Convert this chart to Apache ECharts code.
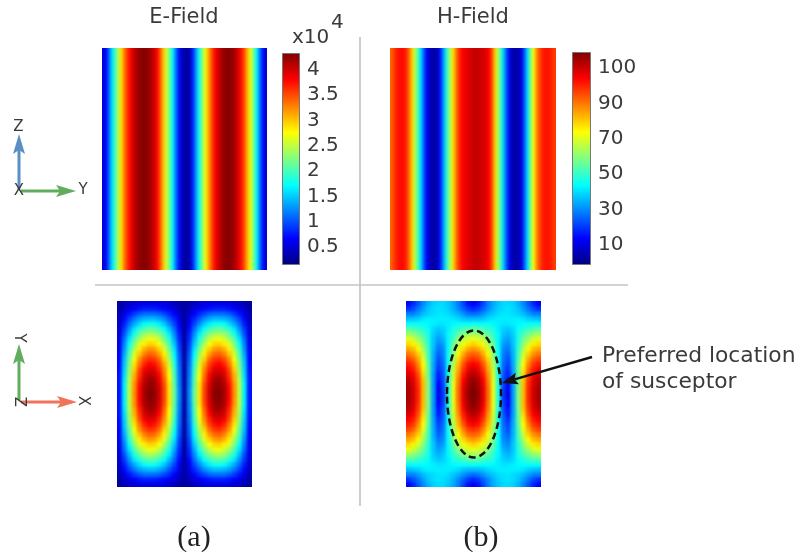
<!DOCTYPE html>
<html>
<head>
<meta charset="utf-8">
<style>html,body{margin:0;padding:0;background:#fff}#c{width:798px;height:556px;filter:blur(0.5px)}</style>
<script src="https://cdn.jsdelivr.net/npm/echarts@6/dist/echarts.min.js"></script>
</head>
<body>
<div id="c"></div>
<script>
// Top row: field magnitude across the width of the slab (the field does not vary along Z)
const eYProfile = [0.5,0.7,1.15,1.6,2.0,2.45,2.9,3.3,3.6,3.8,4.0,4.15,4.25,4.3,4.3,4.25,4.15,4.0,3.8,3.45,3.05,2.6,2.2,1.75,1.25,0.8,0.5,0.3,0.25,0.45,0.85,1.35,1.8,2.25,2.7,3.1,3.45,3.75,3.95,4.1,4.25,4.3,4.3,4.25,4.15,3.95,3.75,3.5,3.1,2.7,2.25,1.75,1.25,0.8,0.5];
const hYProfile = [92,97,101,103,103,100,92,80,66,52,39,25,13,6,3,4,9,22,37,52,66,79,91,99,104,106,108,109,111,111,110,109,107,104,95,80,65,50,36,22,10,5,3,5,10,25,40,58,73,87,95,100,102,102,100,97];

// Bottom row: top-left quarter of each field, percent of colour range (the field is mirrored about both centre lines)
const eQuarter = [
[3,5,7,8,9,10,10,10,10,9,8,6,4,3],
[4,7,10,12,14,15,15,15,14,13,11,9,6,3],
[5,10,14,18,21,23,23,23,22,19,16,12,8,3],
[6,13,19,24,28,30,31,31,29,26,21,16,10,3],
[7,15,23,29,34,38,39,39,36,32,26,19,11,3],
[8,18,27,35,41,45,47,46,43,38,31,23,13,3],
[9,20,31,40,47,52,54,53,50,44,36,26,15,3],
[10,23,35,45,53,58,61,60,56,49,40,29,16,3],
[10,25,38,50,59,64,67,66,62,54,44,32,18,3],
[11,27,42,54,64,70,73,72,67,59,48,35,19,3],
[12,29,45,58,68,75,78,77,72,64,52,37,21,3],
[12,31,47,61,73,80,83,82,77,67,55,39,22,3],
[13,32,50,65,76,84,88,86,81,71,58,41,23,3],
[13,33,52,67,80,88,91,90,84,74,60,43,24,3],
[14,34,53,70,82,91,94,93,87,76,62,44,24,3],
[14,35,55,71,84,93,97,96,89,78,63,45,25,3],
[14,36,56,73,86,95,98,97,91,80,65,46,25,3],
[14,36,56,73,87,96,99,98,92,81,65,47,26,3],
[14,36,56,74,87,96,100,99,92,81,65,47,26,3]];
const hQuarter = [
[12,16,21,26,30,33,34,34,32,29,25,19,14,11],
[17,20,24,28,32,34,35,34,33,30,26,22,18,16],
[25,25,28,31,33,34,35,35,34,32,30,27,24,23],
[31,32,33,35,36,36,36,36,36,35,34,32,31,31],
[38,38,38,38,37,36,35,35,36,37,38,38,38,39],
[46,45,43,41,38,34,32,33,36,40,42,44,46,46],
[53,51,48,44,40,33,30,32,37,42,46,50,53,53],
[60,58,53,48,40,32,28,30,37,44,51,56,59,60],
[66,64,58,51,41,32,26,28,37,47,55,61,65,67],
[71,69,63,54,43,31,24,26,38,49,59,66,71,73],
[76,73,67,57,44,30,22,25,38,51,62,71,77,78],
[81,78,71,60,45,30,20,24,39,53,66,75,81,83],
[85,82,74,62,47,29,19,23,39,55,69,79,86,88],
[88,85,77,64,48,29,17,22,39,57,71,82,89,92],
[91,88,80,66,48,28,15,21,39,58,73,85,92,95],
[94,90,82,68,49,28,14,20,40,59,75,87,95,97],
[95,91,83,69,50,28,12,19,40,60,76,89,96,99],
[96,92,84,69,50,28,11,18,40,60,77,90,97,100],
[96,92,84,69,50,28,10,18,40,60,77,90,98,100]];

const eTicks = [0.5,1,1.5,2,2.5,3,3.5,4];
const hTicks = [10,30,50,70,90,110];
const hTickLabels = ["10","30","50","70","90","100"];
const eRange = [0.144,4.336];
const hRange = [-1.3,119];

const jet = ['#00007f','#0000ff','#0080ff','#00ffff','#80ff80','#ffff00','#ff8000','#ff0000','#7f0000'];
const text = '#3a3a3a', sans = '"DejaVu Sans"';

const mirror = q => { const rows = q.map(r => r.concat(r.slice(0,-1).reverse())); return rows.concat(rows.slice(0,-1).reverse()); };
const cells = m => m.flatMap((r,j) => r.map((v,i) => [i,j,v]));
const strip = p => p.map((v,i) => [i,0,v]);
const idx = n => Array.from({length:n},(_,i)=>i);

const grids = [
  {left:102,top:48,width:165,height:222},
  {left:390,top:48,width:166,height:222},
  {left:117,top:301,width:135,height:186},
  {left:406,top:301,width:135,height:186},
  {left:282,top:53,width:18,height:212},
  {left:572,top:52,width:19,height:213}
];
const heatData = [strip(eYProfile), strip(hYProfile), cells(mirror(eQuarter)), cells(mirror(hQuarter))];
const xAxis = [], yAxis = [], series = [], visualMap = [];
heatData.forEach((d,k) => {
  const nx = Math.max(...d.map(c=>c[0]))+1, ny = Math.max(...d.map(c=>c[1]))+1;
  xAxis.push({gridIndex:k,type:'category',data:idx(nx),show:false});
  yAxis.push({gridIndex:k,type:'category',data:idx(ny),show:false});
  // a crisp copy below and a softened copy above, so the smoothing never fades towards the white page
  [0,1].forEach(z => series.push({type:'heatmap',zlevel:z,xAxisIndex:k,yAxisIndex:k,data:d,itemStyle:{borderWidth:0},emphasis:{disabled:true},progressive:0}));
  const range = k===0?eRange:k===1?hRange:[0,100];
  visualMap.push({show:false,seriesIndex:[2*k,2*k+1],dimension:2,min:range[0],max:range[1],inRange:{color:jet}});
});
const gradient = {type:'linear',x:0,y:1,x2:0,y2:0,colorStops:jet.map((c,i)=>({offset:i/8,color:c}))};
[[eRange,eTicks,v=>String(v)],[hRange,hTicks,v=>hTickLabels[hTicks.indexOf(v)]]].forEach((b,n) => {
  const k = 4+n;
  xAxis.push({gridIndex:k,type:'category',data:['scale'],show:false});
  yAxis.push({gridIndex:k,type:'value',position:'right',min:b[0][0],max:b[0][1],startValue:b[0][0],splitLine:{show:false},
    axisLine:{show:false},
    axisTick:{show:true,inside:true,length:3,customValues:b[1],lineStyle:{color:'#555'}},
    axisLabel:{customValues:b[1],formatter:b[2],margin:7,color:text,fontFamily:sans,fontSize:20}});
  series.push({type:'bar',xAxisIndex:k,yAxisIndex:k,data:[b[0][1]],barWidth:'100%',silent:true,
    itemStyle:{color:gradient,borderColor:'#777',borderWidth:1}});
});

const T = (x,y,s,o={}) => ({type:'text',z:100,zlevel:2,x,y,rotation:o.rot||0,style:{text:s,fill:o.fill||text,
  fontFamily:o.font||sans,fontSize:o.size||20,align:o.align||'center',verticalAlign:o.va||'middle'}});
const L = (x1,y1,x2,y2,c,w) => ({type:'line',z:100,zlevel:2,shape:{x1,y1,x2,y2},style:{stroke:c,lineWidth:w}});
function arrow(x1,y1,x2,y2,c,w,len,hw,notch){
  const d=Math.hypot(x2-x1,y2-y1),ux=(x2-x1)/d,uy=(y2-y1)/d,nx=-uy,ny=ux;
  const P=(a,b)=>[x2-ux*a+nx*b,y2-uy*a+ny*b];
  return [L(x1,y1,x2-ux*(len-notch),y2-uy*(len-notch),c,w),
    {type:'polygon',z:100,zlevel:2,shape:{points:[P(0,0),P(len,hw),P(len-notch,0),P(len,-hw)]},style:{fill:c}}];
}
// white frame that trims the softened layer back to each panel's edge
const frame = grids.slice(0,4).flatMap(g => {
  const m = 6, R = (x,y,width,height) => ({type:'rect',z:50,zlevel:2,shape:{x,y,width,height},style:{fill:'#fff'}});
  return [R(g.left-m,g.top-m,g.width+2*m,m),R(g.left-m,g.top+g.height,g.width+2*m,m),
          R(g.left-m,g.top,m,g.height),R(g.left+g.width,g.top,m,g.height)];
});
const blue='#5b8fc4',green='#62ac5e',red='#f1745a',dark='#111';
const graphic = [
  ...frame,
  L(360,37,360,506,'#bdbdbd',1.5), L(95,285,628,285,'#c4c4c4',1.5),
  T(184,18,'E-Field',{size:21}), T(473,18,'H-Field',{size:21}),
  T(292,38,'x10',{align:'left',size:20}), T(331,23,'4',{align:'left',size:20}),
  ...arrow(19,189,19,134,blue,3,20,6,4),
  ...arrow(21,191,76,191,green,3,20,6,4),
  T(18.5,127,'Z',{size:15}), T(19,191,'X',{size:15}), T(83,190,'Y',{size:15}),
  ...arrow(19,400,19,344,green,3,20,6,4),
  ...arrow(21,402,77,402,red,3,20,6,4),
  T(19,338,'Y',{size:15,rot:-Math.PI/2}), T(19,402,'Z',{size:15,rot:-Math.PI/2}), T(83,401,'X',{size:15,rot:-Math.PI/2}),
  {type:'ellipse',z:100,zlevel:2,shape:{cx:474,cy:394,rx:27,ry:63.5},style:{fill:'transparent',stroke:dark,lineWidth:2.5,lineDash:[7,4]}},
  ...arrow(592,357,502,383,dark,2.5,16,6,3),
  T(602,356,'Preferred location',{align:'left',size:21.8}),
  T(602,382,'of susceptor',{align:'left',size:21.8}),
  T(194,538,'(a)',{font:'"Liberation Serif"',size:30,fill:'#222'}),
  T(481,538,'(b)',{font:'"Liberation Serif"',size:30,fill:'#222'})
];

const chart = echarts.init(document.getElementById('c'),null,{renderer:'canvas'});
chart.setOption({animation:false,backgroundColor:'#fff',tooltip:{show:false},grid:grids,xAxis,yAxis,visualMap,series,graphic});
const soften = () => document.querySelectorAll('#c canvas[data-zr-dom-id="zr_1"]').forEach(c => { c.style.filter = 'blur(1.6px)'; });
soften(); chart.on('finished', soften);
</script>
</body>
</html>
